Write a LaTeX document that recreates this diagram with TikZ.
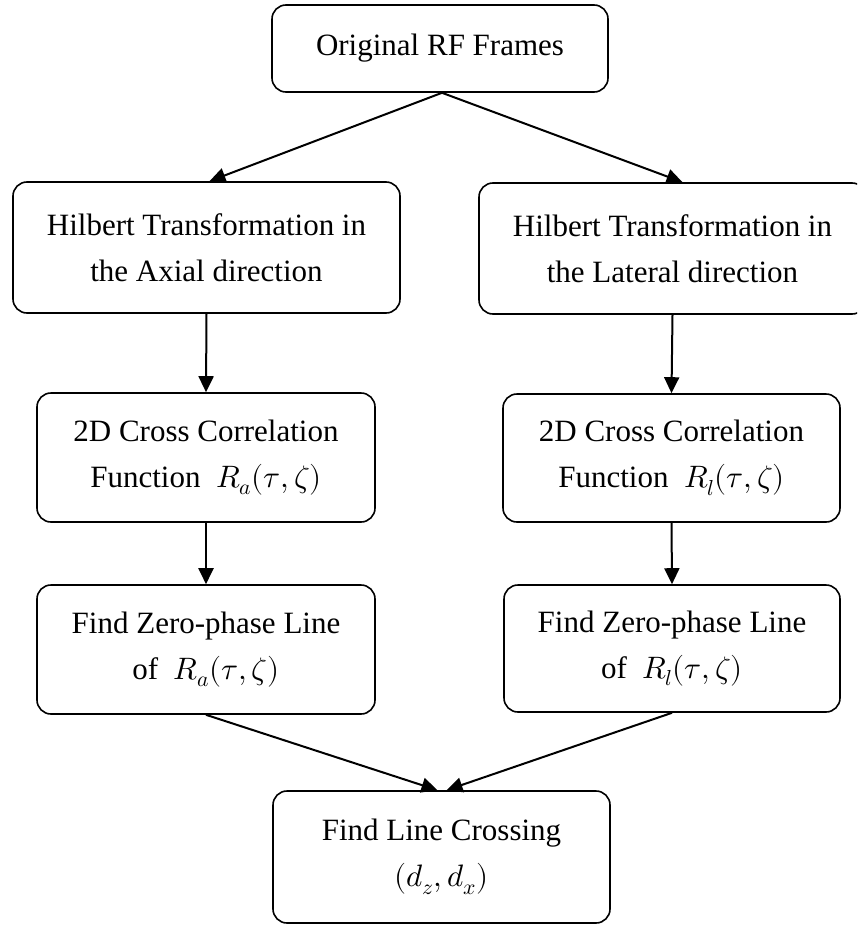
\documentclass[tikz,border=0pt]{standalone}
\usepackage{fontspec}
\usepackage{unicode-math}
\setmainfont{Liberation Serif}
\usetikzlibrary{arrows.meta,calc}
\tikzset{
  box/.style={draw, line width=1.6pt, rounded corners=14pt, rectangle, inner sep=0pt,
    align=center, font=\fontsize{31}{46}\selectfont},
  conn/.style={line width=2pt, -{Triangle[length=16pt,width=15pt]}}
}
\begin{document}
\begin{tikzpicture}[x=1pt,y=-1pt]
\useasboundingbox (0,0) rectangle (857,926);
\clip (0,0) rectangle (857,926);
\node[box, minimum width=336pt, minimum height=87pt] (top) at (440,48.5) {Original RF Frames};
\node[box, minimum width=387pt, minimum height=131pt] (lh) at (206.5,247.5) {Hilbert Transformation in\\the Axial direction};
\node[box, minimum width=387pt, minimum height=131pt] (rh) at (672.5,248.5) {Hilbert Transformation in\\the Lateral direction};
\node[box, minimum width=338pt, minimum height=129pt] (la) at (206,457.5) {2D Cross Correlation\\Function\ \ $R_a(\tau,\zeta)$};
\node[box, minimum width=337pt, minimum height=128pt] (ra) at (671.5,458) {2D Cross Correlation\\Function\ \ $R_l(\tau,\zeta)$};
\node[box, minimum width=338pt, minimum height=129pt] (lf) at (206,649.5) {Find Zero-phase Line\\of\ \ $R_a(\tau,\zeta)$};
\node[box, minimum width=336pt, minimum height=127pt] (rf) at (672,648.5) {Find Zero-phase Line\\of\ \ $R_l(\tau,\zeta)$};
\node[box, minimum width=337pt, minimum height=132pt] (bot) at (441.5,857) {Find Line Crossing\\$(d_z,d_x)$};
\draw[conn] ($(top.south)+(2,0)$) -- ($(lh.north)+(3,0)$);
\draw[conn] ($(top.south)+(2,0)$) -- ($(rh.north)+(10,0)$);
\draw[conn] (lh.south) -- (la.north);
\draw[conn] (rh.south) -- (ra.north);
\draw[conn] (la.south) -- (lf.north);
\draw[conn] (ra.south) -- (rf.north);
\draw[conn] (lf.south) -- ($(bot.north)+(-4,0)$);
\draw[conn] (rf.south) -- ($(bot.north)+(5,0)$);
\end{tikzpicture}
\end{document}
